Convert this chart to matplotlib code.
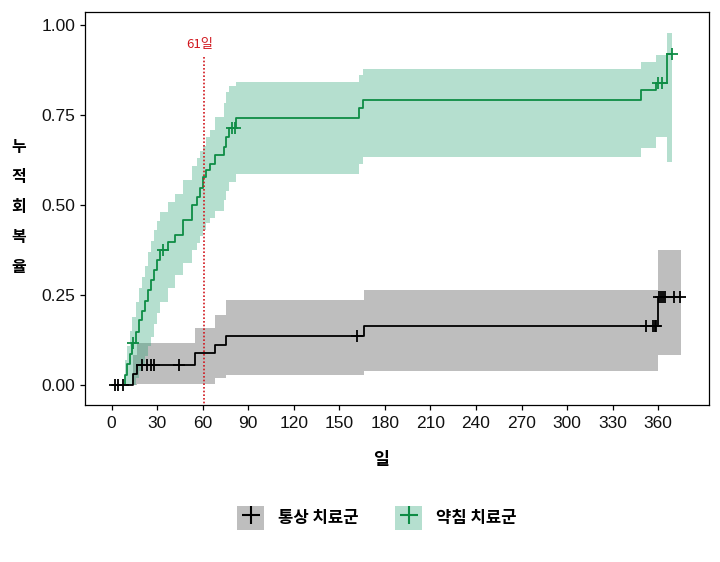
import numpy as np
import matplotlib
matplotlib.use("Agg")
import matplotlib.pyplot as plt
from matplotlib import font_manager
from matplotlib.patches import Patch
from matplotlib.lines import Line2D
from matplotlib.legend_handler import HandlerTuple

# 약침 치료군 (acupuncture group): step times, cumulative recovery, CI
acu_t = [0, 9, 10.5, 12, 13.5, 16, 18, 20, 22, 24, 26, 28, 30, 32, 37, 42, 47, 53, 56, 58,
         60, 62, 65, 68, 74, 75.5, 77.5, 82, 163.2, 165.4, 348.8, 358.7, 365.7]
acu_v = [0, 0.029, 0.058, 0.087, 0.117, 0.148, 0.18, 0.207, 0.235, 0.263, 0.291, 0.319, 0.347,
         0.375, 0.398, 0.416, 0.459, 0.5, 0.524, 0.549, 0.578, 0.597, 0.615, 0.638, 0.661,
         0.69, 0.715, 0.742, 0.769, 0.792, 0.819, 0.838, 0.921]
acu_up = [0, 0.07, 0.11, 0.15, 0.19, 0.23, 0.27, 0.30, 0.33, 0.37, 0.40, 0.43, 0.455, 0.48,
          0.51, 0.53, 0.57, 0.61, 0.63, 0.65, 0.665, 0.69, 0.71, 0.745, 0.785, 0.815, 0.83,
          0.843, 0.861, 0.877, 0.898, 0.917, 0.979]
acu_lo = [0, 0, 0, 0, 0, 0.02, 0.04, 0.06, 0.08, 0.11, 0.135, 0.17, 0.2, 0.23, 0.27, 0.305,
          0.34, 0.375, 0.395, 0.415, 0.43, 0.45, 0.465, 0.485, 0.515, 0.54, 0.565, 0.586,
          0.614, 0.634, 0.659, 0.688, 0.62]
acu_end = 369.4
acu_cens = [14.3, 34, 79.1, 81.3, 359.7, 362.2, 369]

# 통상 치료군 (usual care group)
usu_t = [0, 14.3, 16.9, 54.8, 68.2, 75.4, 166, 360.2]
usu_v = [0, 0.03, 0.056, 0.089, 0.111, 0.136, 0.164, 0.244]
usu_up = [0, 0.085, 0.118, 0.158, 0.194, 0.236, 0.265, 0.375]
usu_lo = [0, 0, 0.004, 0.004, 0.02, 0.027, 0.04, 0.083]
usu_end = 375
usu_cens = [2.2, 4.4, 7.3, 19.8, 23.1, 25.7, 28, 44.4, 161.5, 352, 356.5, 357.6, 358.7,
            360.5, 361.9, 363.3, 364.8, 370.1, 374.5]

xticks = list(range(0, 361, 30))
yticks = [0, 0.25, 0.5, 0.75, 1.0]
ylabels = ["0.00", "0.25", "0.50", "0.75", "1.00"]
ylab_chars = ["누", "적", "회", "복", "율"]
marker_day = 61

green = "#0E8C45"
green_fill = "#1B9E6A"
red = "#D1171E"
kr = ["Noto Sans CJK KR", "DejaVu Sans"]

names = {f.name for f in font_manager.fontManager.ttflist}
if "Liberation Sans Narrow" in names:
    tick_font, tick_size = "Liberation Sans Narrow", 14
else:
    tick_font, tick_size = "Liberation Sans", 12.5


def ext(t, v, end):
    return np.append(t, end), np.append(v, v[-1])


def at(t, v, x):
    idx = np.searchsorted(t, x, side="right") - 1
    return np.asarray(v)[idx]


fig = plt.figure(figsize=(7.2, 5.62), dpi=100)
ax = fig.add_axes([0.118, 0.279, 0.867, 0.700])

# confidence bands
tx, up = ext(usu_t, usu_up, usu_end)
_, lo = ext(usu_t, usu_lo, usu_end)
ax.fill_between(tx, lo, up, step="post", color="#7F7F7F", alpha=0.5, lw=0)
tx, up = ext(acu_t, acu_up, acu_end)
_, lo = ext(acu_t, acu_lo, acu_end)
ax.fill_between(tx, lo, up, step="post", color=green_fill, alpha=0.32, lw=0)

# step curves
tx, v = ext(usu_t, usu_v, max(usu_cens))
ax.step(tx, v, where="post", color="black", lw=1.3)
tx, v = ext(acu_t, acu_v, max(acu_cens))
ax.step(tx, v, where="post", color=green, lw=1.3)

# censoring marks
ax.plot(usu_cens, at(usu_t, usu_v, usu_cens), ls="none", marker="+", color="black",
        ms=8, mew=1.3)
ax.plot(acu_cens, at(acu_t, acu_v, acu_cens), ls="none", marker="+", color=green,
        ms=9, mew=1.3)

# 61일 reference line
ax.plot([marker_day, marker_day], [-0.06, 0.912], color=red, ls=(0, (1, 1.2)), lw=1.2)
ax.text(marker_day - 3, 0.946, f"{marker_day}일", color=red, fontsize=9.5, family=kr,
        ha="center", va="center")

ax.set_xlim(-17.5, 393.6)
ax.set_ylim(-0.0556, 1.037)
ax.set_xticks(xticks)
ax.set_xticklabels([str(x) for x in xticks], family=tick_font, fontsize=tick_size)
ax.set_yticks(yticks)
ax.set_yticklabels(ylabels, family=tick_font, fontsize=tick_size)
ax.tick_params(length=3.6, width=0.9, color="black", labelcolor="#111111")
ax.tick_params(axis="x", pad=4)
ax.tick_params(axis="y", pad=3.5)
for s in ax.spines.values():
    s.set_linewidth(0.9)
    s.set_color("black")

# vertical y label, one syllable per line
for i, ch in enumerate(ylab_chars):
    fig.text(18.5 / 720, 1 - (147 + 30 * i) / 562, ch, family=kr, weight="bold",
             fontsize=11.5, ha="center", va="center")

fig.text(381 / 720, 1 - 460 / 562, "일", family=kr, weight="bold", fontsize=12.5,
         ha="center", va="center")

handles = [
    (Patch(facecolor="#7F7F7F", alpha=0.5, lw=0),
     Line2D([], [], color="black", marker="+", ls="none", ms=13, mew=1.5)),
    (Patch(facecolor=green_fill, alpha=0.32, lw=0),
     Line2D([], [], color=green, marker="+", ls="none", ms=13, mew=1.5)),
]
fig.legend(handles, ["통상 치료군", "약침 치료군"], loc="center",
           bbox_to_anchor=(377 / 720, 1 - 518 / 562), ncol=2, frameon=False,
           handler_map={tuple: HandlerTuple(ndivide=1)},
           prop={"family": kr, "weight": "bold", "size": 12},
           handlelength=1.6, handleheight=1.8, handletextpad=0.85, columnspacing=2.2)

fig.savefig("out.png", dpi=100, facecolor="white")
